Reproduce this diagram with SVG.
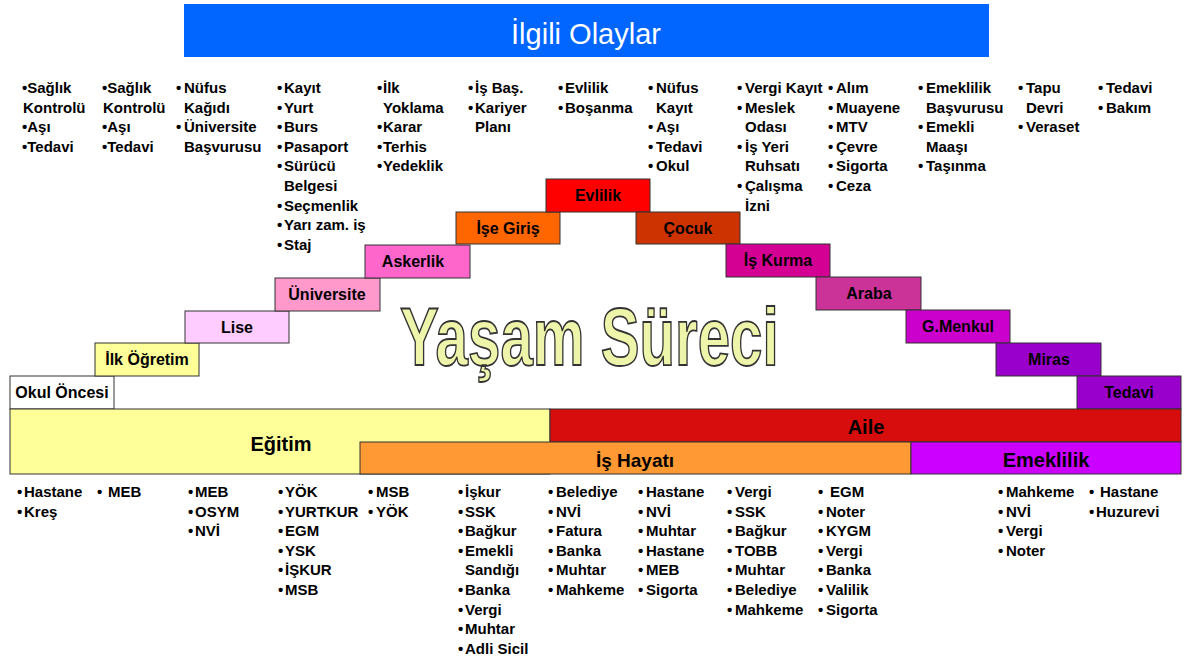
<svg xmlns="http://www.w3.org/2000/svg" width="1184" height="661" viewBox="0 0 1184 661">
  <style>
    .bx { stroke: #333333; stroke-width: 1; }
    .lbl { font-family: "Liberation Sans", Arial, sans-serif; font-weight: bold; font-size: 16px; fill: #000; text-anchor: middle; }
    .band { font-family: "Liberation Sans", Arial, sans-serif; font-weight: bold; font-size: 20px; fill: #000; text-anchor: middle; }
    .li { font-family: "Liberation Sans", Arial, sans-serif; font-weight: bold; font-size: 15px; fill: #000; }
    .title { font-family: "Liberation Sans", Arial, sans-serif; font-size: 29px; fill: #fff; text-anchor: middle; }
    .big { font-family: "Liberation Sans", Arial, sans-serif; font-weight: bold; font-size: 82px; fill: #EEF4AA; stroke: #333; stroke-width: 1.8; }
  </style>
  <rect width="1184" height="661" fill="#fff"/>

  <!-- header -->
  <g id="header">
    <rect x="184" y="4" width="805" height="53" fill="#0066FF"/>
    <text class="title" x="586" y="44">İlgili Olaylar</text>
  </g>

  <!-- centre heading, horizontally condensed -->
  <g id="heading">
    <text class="big" transform="translate(400 365) scale(0.71 1)" x="0" y="0">Yaşam Süreci</text>
  </g>

  <!-- life stage steps -->
  <g id="step-okul-oncesi"><rect class="bx" x="10" y="376" width="104" height="33" fill="#FFFFFF"/><text class="lbl" x="62" y="398">Okul Öncesi</text></g>
  <g id="step-ilk-ogretim"><rect class="bx" x="95" y="343" width="104" height="33" fill="#FFFF99"/><text class="lbl" x="147" y="365">İlk Öğretim</text></g>
  <g id="step-lise"><rect class="bx" x="185" y="311" width="104" height="32" fill="#FFCCFF"/><text class="lbl" x="237" y="333">Lise</text></g>
  <g id="step-universite"><rect class="bx" x="275" y="278" width="105" height="33" fill="#FF99CC"/><text class="lbl" x="327" y="300">Üniversite</text></g>
  <g id="step-askerlik"><rect class="bx" x="365" y="245" width="105" height="33" fill="#FF66CC"/><text class="lbl" x="413" y="267">Askerlik</text></g>
  <g id="step-ise-giris"><rect class="bx" x="456" y="212" width="104" height="32" fill="#FF6600"/><text class="lbl" x="508" y="234">İşe Giriş</text></g>
  <g id="step-evlilik"><rect class="bx" x="546" y="179" width="104" height="33" fill="#FF0000"/><text class="lbl" x="598" y="201">Evlilik</text></g>
  <g id="step-cocuk"><rect class="bx" x="636" y="212" width="104" height="32" fill="#CC3300"/><text class="lbl" x="688" y="234">Çocuk</text></g>
  <g id="step-is-kurma"><rect class="bx" x="726" y="244" width="104" height="33" fill="#D40094"/><text class="lbl" x="778" y="266">İş Kurma</text></g>
  <g id="step-araba"><rect class="bx" x="816" y="277" width="105" height="33" fill="#CC3399"/><text class="lbl" x="869" y="299">Araba</text></g>
  <g id="step-g-menkul"><rect class="bx" x="906" y="310" width="104" height="33" fill="#CC00CC"/><text class="lbl" x="958" y="332">G.Menkul</text></g>
  <g id="step-miras"><rect class="bx" x="996" y="343" width="105" height="33" fill="#9900CC"/><text class="lbl" x="1049" y="365">Miras</text></g>
  <g id="step-tedavi"><rect class="bx" x="1077" y="376" width="104" height="33" fill="#9900CC"/><text class="lbl" x="1129" y="398">Tedavi</text></g>

  <!-- period bands -->
  <g id="band-egitim"><rect class="bx" x="10" y="409" width="540" height="65" fill="#FFFF99"/><text class="band" x="281" y="451">Eğitim</text></g>
  <g id="band-aile"><rect class="bx" x="550" y="409" width="631" height="33" fill="#D70C0C"/><text class="band" x="866" y="434">Aile</text></g>
  <g id="band-is-hayati"><rect class="bx" x="360" y="442" width="551" height="32" fill="#FF9933"/><text class="band" x="635" y="467" style="font-size:19px">İş Hayatı</text></g>
  <g id="band-emeklilik"><rect class="bx" x="911" y="442" width="270" height="32" fill="#CC00FF"/><text class="band" x="1046" y="467">Emeklilik</text></g>

  <!-- related events (top lists) -->
  <g id="events">
    <text class="li" y="93"><tspan x="22">•Sağlık</tspan><tspan x="23" dy="19.6">Kontrolü</tspan><tspan x="22" dy="19.6">•Aşı</tspan><tspan x="22" dy="19.6">•Tedavi</tspan></text>
    <text class="li" y="93"><tspan x="102">•Sağlık</tspan><tspan x="103" dy="19.6">Kontrolü</tspan><tspan x="102" dy="19.6">•Aşı</tspan><tspan x="102" dy="19.6">•Tedavi</tspan></text>
    <text class="li" y="93"><tspan x="176">•</tspan><tspan x="184">Nüfus</tspan><tspan x="184" dy="19.6">Kağıdı</tspan><tspan x="176" dy="19.6">•</tspan><tspan x="184">Üniversite</tspan><tspan x="184" dy="19.6">Başvurusu</tspan></text>
    <text class="li" y="93"><tspan x="277">•</tspan><tspan x="284">Kayıt</tspan><tspan x="277" dy="19.6">•</tspan><tspan x="284">Yurt</tspan><tspan x="277" dy="19.6">•</tspan><tspan x="284">Burs</tspan><tspan x="277" dy="19.6">•</tspan><tspan x="284">Pasaport</tspan><tspan x="277" dy="19.6">•</tspan><tspan x="284">Sürücü</tspan><tspan x="284" dy="19.6">Belgesi</tspan><tspan x="277" dy="19.6">•</tspan><tspan x="284">Seçmenlik</tspan><tspan x="277" dy="19.6">•</tspan><tspan x="284">Yarı zam. iş</tspan><tspan x="277" dy="19.6">•</tspan><tspan x="284">Staj</tspan></text>
    <text class="li" y="93"><tspan x="377">•</tspan><tspan x="383">İlk</tspan><tspan x="383" dy="19.6">Yoklama</tspan><tspan x="377" dy="19.6">•</tspan><tspan x="383">Karar</tspan><tspan x="377" dy="19.6">•</tspan><tspan x="383">Terhis</tspan><tspan x="377" dy="19.6">•</tspan><tspan x="383">Yedeklik</tspan></text>
    <text class="li" y="93"><tspan x="468">•</tspan><tspan x="475">İş Baş.</tspan><tspan x="468" dy="19.6">•</tspan><tspan x="475">Kariyer</tspan><tspan x="475" dy="19.6">Planı</tspan></text>
    <text class="li" y="93"><tspan x="558">•</tspan><tspan x="565">Evlilik</tspan><tspan x="558" dy="19.6">•</tspan><tspan x="565">Boşanma</tspan></text>
    <text class="li" y="93"><tspan x="648">•</tspan><tspan x="656">Nüfus</tspan><tspan x="656" dy="19.6">Kayıt</tspan><tspan x="648" dy="19.6">•</tspan><tspan x="656">Aşı</tspan><tspan x="648" dy="19.6">•</tspan><tspan x="656">Tedavi</tspan><tspan x="648" dy="19.6">•</tspan><tspan x="656">Okul</tspan></text>
    <text class="li" y="93"><tspan x="737">•</tspan><tspan x="745">Vergi Kayıt</tspan><tspan x="737" dy="19.6">•</tspan><tspan x="745">Meslek</tspan><tspan x="745" dy="19.6">Odası</tspan><tspan x="737" dy="19.6">•</tspan><tspan x="745">İş Yeri</tspan><tspan x="745" dy="19.6">Ruhsatı</tspan><tspan x="737" dy="19.6">•</tspan><tspan x="745">Çalışma</tspan><tspan x="745" dy="19.6">İzni</tspan></text>
    <text class="li" y="93"><tspan x="828">•</tspan><tspan x="836">Alım</tspan><tspan x="828" dy="19.6">•</tspan><tspan x="836">Muayene</tspan><tspan x="828" dy="19.6">•</tspan><tspan x="836">MTV</tspan><tspan x="828" dy="19.6">•</tspan><tspan x="836">Çevre</tspan><tspan x="828" dy="19.6">•</tspan><tspan x="836">Sigorta</tspan><tspan x="828" dy="19.6">•</tspan><tspan x="836">Ceza</tspan></text>
    <text class="li" y="93"><tspan x="918">•</tspan><tspan x="926">Emeklilik</tspan><tspan x="926" dy="19.6">Başvurusu</tspan><tspan x="918" dy="19.6">•</tspan><tspan x="926">Emekli</tspan><tspan x="926" dy="19.6">Maaşı</tspan><tspan x="918" dy="19.6">•</tspan><tspan x="926">Taşınma</tspan></text>
    <text class="li" y="93"><tspan x="1018">•</tspan><tspan x="1026">Tapu</tspan><tspan x="1026" dy="19.6">Devri</tspan><tspan x="1018" dy="19.6">•</tspan><tspan x="1026">Veraset</tspan></text>
    <text class="li" y="93"><tspan x="1098">•</tspan><tspan x="1106">Tedavi</tspan><tspan x="1098" dy="19.6">•</tspan><tspan x="1106">Bakım</tspan></text>
  </g>

  <!-- responsible institutions (bottom lists) -->
  <g id="institutions">
    <text class="li" y="497"><tspan x="17">•</tspan><tspan x="24">Hastane</tspan><tspan x="17" dy="19.6">•</tspan><tspan x="24">Kreş</tspan></text>
    <text class="li" y="497"><tspan x="97">•</tspan><tspan x="108">MEB</tspan></text>
    <text class="li" y="497"><tspan x="188">•</tspan><tspan x="195">MEB</tspan><tspan x="188" dy="19.6">•</tspan><tspan x="195">OSYM</tspan><tspan x="188" dy="19.6">•</tspan><tspan x="195">NVİ</tspan></text>
    <text class="li" y="497"><tspan x="278">•</tspan><tspan x="285">YÖK</tspan><tspan x="278" dy="19.6">•</tspan><tspan x="285">YURTKUR</tspan><tspan x="278" dy="19.6">•</tspan><tspan x="285">EGM</tspan><tspan x="278" dy="19.6">•</tspan><tspan x="285">YSK</tspan><tspan x="278" dy="19.6">•</tspan><tspan x="285">İŞKUR</tspan><tspan x="278" dy="19.6">•</tspan><tspan x="285">MSB</tspan></text>
    <text class="li" y="497"><tspan x="368">•</tspan><tspan x="376">MSB</tspan><tspan x="368" dy="19.6">•</tspan><tspan x="376">YÖK</tspan></text>
    <text class="li" y="497"><tspan x="458">•</tspan><tspan x="465">İşkur</tspan><tspan x="458" dy="19.6">•</tspan><tspan x="465">SSK</tspan><tspan x="458" dy="19.6">•</tspan><tspan x="465">Bağkur</tspan><tspan x="458" dy="19.6">•</tspan><tspan x="465">Emekli</tspan><tspan x="465" dy="19.6">Sandığı</tspan><tspan x="458" dy="19.6">•</tspan><tspan x="465">Banka</tspan><tspan x="458" dy="19.6">•</tspan><tspan x="465">Vergi</tspan><tspan x="458" dy="19.6">•</tspan><tspan x="465">Muhtar</tspan><tspan x="458" dy="19.6">•</tspan><tspan x="465">Adli Sicil</tspan></text>
    <text class="li" y="497"><tspan x="548">•</tspan><tspan x="556">Belediye</tspan><tspan x="548" dy="19.6">•</tspan><tspan x="556">NVİ</tspan><tspan x="548" dy="19.6">•</tspan><tspan x="556">Fatura</tspan><tspan x="548" dy="19.6">•</tspan><tspan x="556">Banka</tspan><tspan x="548" dy="19.6">•</tspan><tspan x="556">Muhtar</tspan><tspan x="548" dy="19.6">•</tspan><tspan x="556">Mahkeme</tspan></text>
    <text class="li" y="497"><tspan x="638">•</tspan><tspan x="646">Hastane</tspan><tspan x="638" dy="19.6">•</tspan><tspan x="646">NVİ</tspan><tspan x="638" dy="19.6">•</tspan><tspan x="646">Muhtar</tspan><tspan x="638" dy="19.6">•</tspan><tspan x="646">Hastane</tspan><tspan x="638" dy="19.6">•</tspan><tspan x="646">MEB</tspan><tspan x="638" dy="19.6">•</tspan><tspan x="646">Sigorta</tspan></text>
    <text class="li" y="497"><tspan x="727">•</tspan><tspan x="735">Vergi</tspan><tspan x="727" dy="19.6">•</tspan><tspan x="735">SSK</tspan><tspan x="727" dy="19.6">•</tspan><tspan x="735">Bağkur</tspan><tspan x="727" dy="19.6">•</tspan><tspan x="735">TOBB</tspan><tspan x="727" dy="19.6">•</tspan><tspan x="735">Muhtar</tspan><tspan x="727" dy="19.6">•</tspan><tspan x="735">Belediye</tspan><tspan x="727" dy="19.6">•</tspan><tspan x="735">Mahkeme</tspan></text>
    <text class="li" y="497"><tspan x="818">•</tspan><tspan x="830">EGM</tspan><tspan x="818" dy="19.6">•</tspan><tspan x="826">Noter</tspan><tspan x="818" dy="19.6">•</tspan><tspan x="826">KYGM</tspan><tspan x="818" dy="19.6">•</tspan><tspan x="826">Vergi</tspan><tspan x="818" dy="19.6">•</tspan><tspan x="826">Banka</tspan><tspan x="818" dy="19.6">•</tspan><tspan x="826">Valilik</tspan><tspan x="818" dy="19.6">•</tspan><tspan x="826">Sigorta</tspan></text>
    <text class="li" y="497"><tspan x="998">•</tspan><tspan x="1006">Mahkeme</tspan><tspan x="998" dy="19.6">•</tspan><tspan x="1006">NVİ</tspan><tspan x="998" dy="19.6">•</tspan><tspan x="1006">Vergi</tspan><tspan x="998" dy="19.6">•</tspan><tspan x="1006">Noter</tspan></text>
    <text class="li" y="497"><tspan x="1089">•</tspan><tspan x="1100">Hastane</tspan><tspan x="1089" dy="19.6">•</tspan><tspan x="1096">Huzurevi</tspan></text>
  </g>
</svg>
